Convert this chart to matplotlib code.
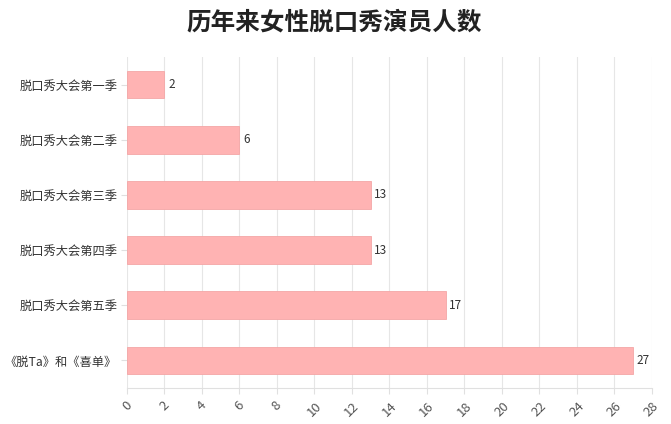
import matplotlib
matplotlib.use("Agg")
import matplotlib.pyplot as plt

plt.rcParams['font.family'] = ['Noto Sans CJK SC', 'DejaVu Sans']

categories = ["脱口秀大会第一季", "脱口秀大会第二季", "脱口秀大会第三季",
              "脱口秀大会第四季", "脱口秀大会第五季", "《脱Ta》和《喜单》"]
values = [2, 6, 13, 13, 17, 27]
xticks = list(range(0, 29, 2))

fig = plt.figure(figsize=(6.71, 4.24), dpi=100)
ax = fig.add_axes([127/671, 1 - 388/424, (651.7 - 127)/671, (388 - 57)/424])

y = list(range(len(categories)))
ax.barh(y, values, height=0.5, color="#FFB3B3", edgecolor="#F4A6A6", linewidth=0.6, zorder=3)
for yi, v in zip(y, values):
    ax.text(v + 0.2, yi, str(v), va="center", ha="left", fontsize=8.5, color="#333333")

ax.set_ylim(len(categories) - 0.5, -0.5)
ax.set_xlim(0, 28)
ax.set_yticks(y)
ax.set_yticklabels(categories, fontsize=8.8, color="#333333")
ax.set_xticks(xticks)
ax.set_xticklabels([str(t) for t in xticks], rotation=45, ha="center", va="top",
                   fontsize=9.5, color="#555555")

ax.grid(axis="x", color="#E6E6E6", linewidth=0.8, zorder=0)
for s in ["top", "right", "left"]:
    ax.spines[s].set_visible(False)
ax.spines["bottom"].set_color("#E0E0E0")
ax.tick_params(axis="y", length=4, color="#E0E0E0", pad=3)
ax.tick_params(axis="x", length=4, color="#E0E0E0", pad=4)

fig.text(334/671, 1 - 23/424, "历年来女性脱口秀演员人数", ha="center", va="center",
         fontsize=17.7, fontweight="bold", color="#222222")

fig.savefig("out.png", dpi=100)
